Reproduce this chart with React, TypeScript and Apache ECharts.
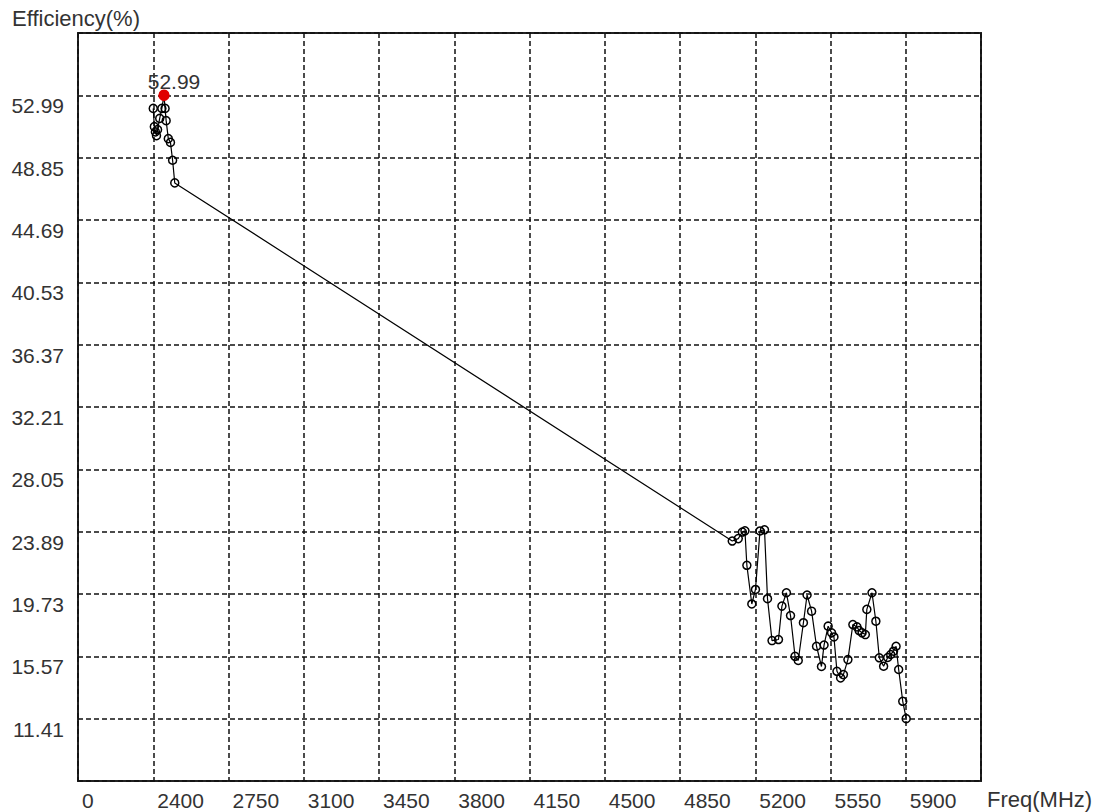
import React, { useEffect, useRef } from "react";
import * as echarts from "echarts";

// Frequencies (MHz) of the measured points
const freqMHz: number[] = [
  2400, 2405, 2410, 2415, 2420, 2430, 2440, 2450, 2455, 2460, 2470, 2480, 2490, 2500,
  5093, 5121, 5140, 5152, 5161, 5184, 5201, 5222, 5243, 5257, 5278, 5308, 5324, 5345,
  5364, 5385, 5400, 5424, 5441, 5462, 5485, 5508, 5520, 5539, 5555, 5566, 5580, 5597,
  5610, 5631, 5654, 5673, 5683, 5697, 5712, 5719, 5743, 5761, 5777, 5797, 5816, 5830,
  5843, 5855, 5867, 5886, 5902,
];

// Efficiency (%) at each frequency
const efficiency: number[] = [
  52.12, 50.9, 50.55, 50.3, 50.7, 51.45, 52.12, 52.99, 52.12, 51.3, 50.1, 49.85, 48.66, 47.15,
  23.26, 23.42, 23.86, 23.94, 21.64, 19.06, 20.03, 23.93, 24.01, 19.41, 16.62, 16.69, 18.92, 19.81,
  18.29, 15.57, 15.29, 17.81, 19.66, 18.58, 16.24, 14.89, 16.32, 17.58, 17.14, 16.86, 14.57, 14.13,
  14.35, 15.35, 17.69, 17.53, 17.29, 17.14, 17.02, 18.7, 19.81, 17.91, 15.47, 14.91, 15.49, 15.69,
  15.91, 16.24, 14.69, 12.57, 11.41,
];

// Tick labels (axis counts ticks by grid step)
const xTickLabels: string[] = [
  "0", "2400", "2750", "3100", "3450", "3800", "4150", "4500", "4850", "5200", "5550", "5900", "",
];
const yTickLabels: string[] = [
  "", "11.41", "15.57", "19.73", "23.89", "28.05", "32.21", "36.37", "40.53", "44.69", "48.85", "52.99", "",
];

// Axis step definitions (grid step sizes of the original plot)
const X_ORIGIN = 2050;
const X_STEP = 350;
const Y_STEP = 4.158;
const Y_ORIGIN = 11.41 - Y_STEP;

const tx = (f: number) => (f - X_ORIGIN) / X_STEP;
const ty = (v: number) => (v - Y_ORIGIN) / Y_STEP;

const FONT = "'Liberation Sans', Arial, sans-serif";
const TEXT_COLOR = "#333";
const FS = 21;

export default function App() {
  const ref = useRef<HTMLDivElement>(null);

  useEffect(() => {
    document.body.style.margin = "0";
    if (!ref.current) return;
    const chart = echarts.init(ref.current, undefined, { renderer: "svg" });

    let maxIdx = 0;
    efficiency.forEach((v, i) => {
      if (v > efficiency[maxIdx]) maxIdx = i;
    });

    const data = freqMHz.map((f, i) => {
      const item: any = { value: [tx(f), ty(efficiency[i])] };
      if (i === maxIdx) {
        item.symbolSize = 10;
        item.itemStyle = { color: "#e00000", borderColor: "#e00000" };
        item.label = {
          show: true,
          position: "top",
          distance: 4,
          offset: [10, 6],
          formatter: efficiency[i].toFixed(2),
          fontSize: FS,
          fontFamily: FONT,
          color: TEXT_COLOR,
        };
        item.z = 10;
      }
      return item;
    });

    const splitLine = {
      show: true,
      lineStyle: { type: [5, 3] as any, color: "#111", width: 1.5 },
    };

    chart.setOption({
      animation: false,
      backgroundColor: "#fff",
      grid: {
        left: 78,
        top: 33,
        right: 120,
        bottom: 31,
        show: true,
        borderColor: "#222",
        borderWidth: 2,
        backgroundColor: "transparent",
      },
      xAxis: {
        type: "value",
        min: 0,
        max: 12,
        interval: 1,
        axisLine: { show: false },
        axisTick: { show: false },
        splitLine,
        axisLabel: {
          formatter: (v: number) => xTickLabels[Math.round(v)] ?? "",
          align: "left",
          padding: [0, 0, 0, 4],
          margin: 9,
          fontSize: FS,
          fontFamily: FONT,
          color: TEXT_COLOR,
          showMinLabel: true,
          showMaxLabel: true,
        },
      },
      yAxis: {
        type: "value",
        min: 0,
        max: 12,
        interval: 1,
        axisLine: { show: false },
        axisTick: { show: false },
        splitLine,
        axisLabel: {
          formatter: (v: number) => yTickLabels[Math.round(v)] ?? "",
          verticalAlign: "top",
          margin: 14,
          fontSize: FS,
          fontFamily: FONT,
          color: TEXT_COLOR,
        },
      },
      graphic: [
        {
          type: "text",
          left: 12,
          top: 7,
          style: { text: "Efficiency(%)", fontSize: 22, fontFamily: FONT, fill: TEXT_COLOR },
        },
        {
          type: "text",
          left: 987,
          top: 788,
          style: { text: "Freq(MHz)", fontSize: 22, fontFamily: FONT, fill: TEXT_COLOR },
        },
      ],
      series: [
        {
          type: "line",
          data,
          symbol: "circle",
          symbolSize: 8,
          showAllSymbol: true,
          itemStyle: { color: "rgba(0,0,0,0)", borderColor: "#000", borderWidth: 1.5 },
          lineStyle: { color: "#000", width: 1.2 },
          emphasis: { disabled: true },
        },
      ],
    });

    return () => chart.dispose();
  }, []);

  return <div ref={ref} style={{ width: 1101, height: 812 }} />;
}
